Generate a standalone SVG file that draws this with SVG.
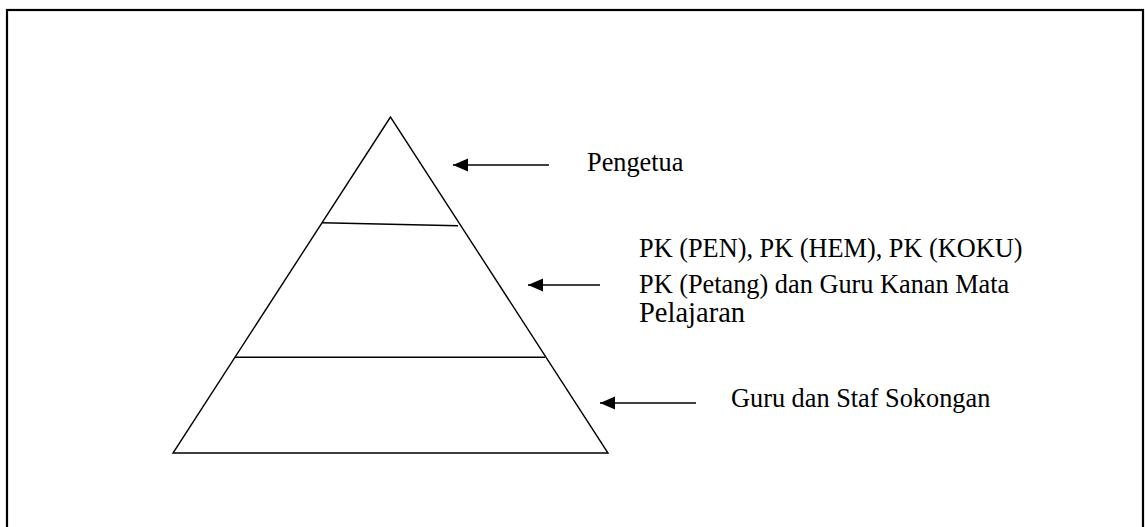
<svg xmlns="http://www.w3.org/2000/svg" width="1145" height="527" viewBox="0 0 1145 527">
<defs>
<style>
.ln{stroke:#000;stroke-width:1.4;fill:none}
.ar{stroke:#000;stroke-width:1.4;fill:none}
.t{font-family:"Liberation Serif","Times New Roman",serif;font-size:26.3px;fill:#000}
</style>
<marker id="ah" markerWidth="16" markerHeight="14" refX="15" refY="7" orient="auto" markerUnits="userSpaceOnUse">
<path d="M15,7 L0,0.5 L0,13.5 Z" fill="#000"/>
</marker>
</defs>
<rect x="0" y="0" width="1145" height="527" fill="#fff"/>
<rect x="7" y="10" width="1136" height="540" fill="none" stroke="#000" stroke-width="2.2"/>
<g id="pyramid">
<polygon class="ln" points="390.5,117 173,453 608,453"/>
<line class="ln" x1="322" y1="222.7" x2="458" y2="225.7"/>
<line class="ln" x1="235" y1="357.3" x2="545" y2="357.3"/>
</g>
<g id="connectors">
<line class="ar" x1="549" y1="165" x2="453" y2="165" marker-end="url(#ah)"/>
<line class="ar" x1="600" y1="285" x2="528" y2="285" marker-end="url(#ah)"/>
<line class="ar" x1="696" y1="403" x2="600" y2="403" marker-end="url(#ah)"/>
</g>
<g id="label-pengetua">
<text class="t" x="587" y="171">Pengetua</text>
</g>
<g id="label-pk">
<text class="t" x="639" y="257">PK (PEN), PK (HEM), PK (KOKU)</text>
<text class="t" x="639" y="293">PK (Petang) dan Guru Kanan Mata</text>
<text class="t" x="639" y="322" style="font-size:28.5px">Pelajaran</text>
</g>
<g id="label-guru">
<text class="t" x="731" y="407">Guru dan Staf Sokongan</text>
</g>
</svg>
